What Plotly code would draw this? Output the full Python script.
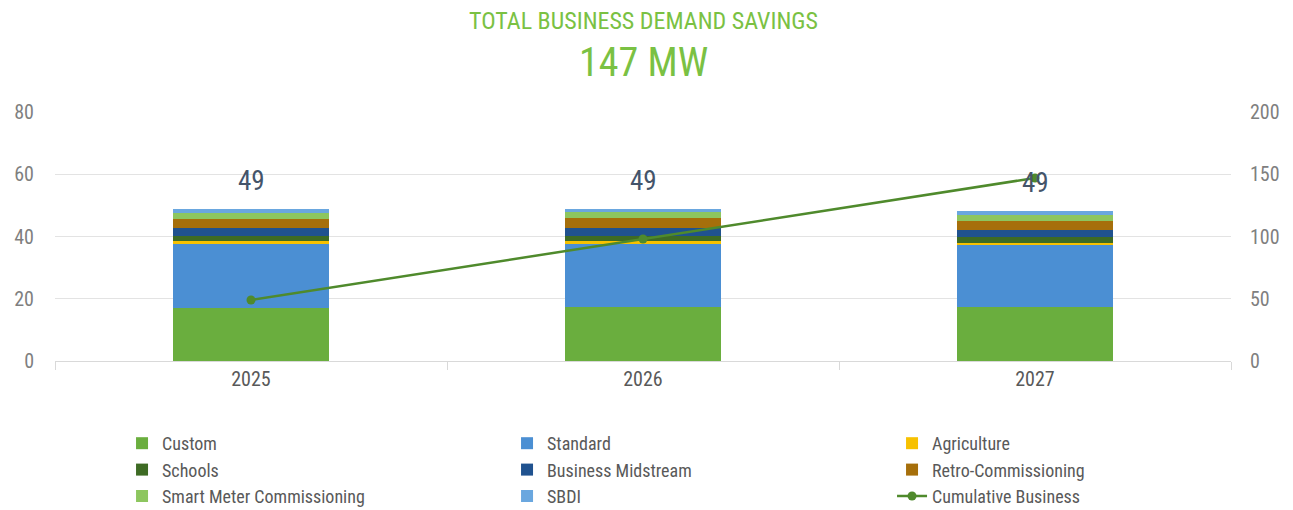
import plotly.graph_objects as go

years = ["2025", "2026", "2027"]
custom = [17.1, 17.3, 17.3]
standard = [20.6, 20.3, 20.0]
agriculture = [0.9, 0.9, 0.5]
schools = [1.6, 1.6, 1.9]
business_midstream = [2.6, 2.6, 2.4]
retro_commissioning = [2.7, 3.2, 3.0]
smart_meter = [2.1, 1.9, 1.9]
sbdi = [1.1, 1.0, 1.3]
cumulative = [49, 98, 147]
total_label = ["49", "49", "49"]

series = [
    ("Custom", custom, "#6aae3e"),
    ("Standard", standard, "#4b8fd3"),
    ("Agriculture", agriculture, "#f7c100"),
    ("Schools", schools, "#3e6b24"),
    ("Business Midstream", business_midstream, "#20528f"),
    ("Retro-Commissioning", retro_commissioning, "#a66f0b"),
    ("Smart Meter Commissioning", smart_meter, "#8dc65f"),
    ("SBDI", sbdi, "#6aa7df"),
]

FONT = "Roboto Condensed, Liberation Sans Narrow, Roboto, sans-serif"

fig = go.Figure()
for name, vals, col in series:
    fig.add_trace(go.Bar(x=years, y=vals, name=name, marker=dict(color=col, line=dict(width=0))))

fig.add_trace(go.Scatter(
    x=years, y=cumulative, name="Cumulative Business", yaxis="y2",
    mode="lines+markers", line=dict(color="#4f8a2c", width=2.5),
    marker=dict(color="#4f8a2c", size=9)))

totals = [sum(v[i] for _, v, _ in series) for i in range(len(years))]
for i, yr in enumerate(years):
    fig.add_annotation(x=i, y=totals[i], text=total_label[i], showarrow=False,
                       yanchor="middle", yshift=28,
                       font=dict(size=27, color="#44546a", family=FONT))

fig.add_annotation(xref="paper", yref="paper", x=0.5, y=1, yshift=91, yanchor="middle",
                   text="TOTAL BUSINESS DEMAND SAVINGS", showarrow=False,
                   font=dict(size=24, color="#7ac143", family=FONT))
fig.add_annotation(xref="paper", yref="paper", x=0.5, y=1, yshift=50, yanchor="middle",
                   text="147 MW", showarrow=False,
                   font=dict(size=40, color="#7ac143", family=FONT))

fig.update_layout(
    width=1293, height=510,
    margin=dict(l=55, r=62, t=112, b=149, autoexpand=False),
    paper_bgcolor="white", plot_bgcolor="white",
    barmode="stack", bargap=0.6,
    font=dict(family=FONT, size=17, color="#595959"),
    xaxis=dict(type="category", categoryorder="array", categoryarray=years,
               range=[-0.5, len(years) - 0.5], autorange=False,
               showgrid=False, ticks="outside", tickson="boundaries", ticklen=8,
               tickcolor="#d9d9d9", showline=True, linecolor="#d9d9d9",
               tickfont=dict(size=20, color="#595959")),
    yaxis=dict(range=[0, 80], dtick=20, gridcolor="#e3e3e3", zeroline=False,
               tickfont=dict(size=20, color="#7f7f7f"), ticklabelstandoff=20),
    yaxis2=dict(range=[0, 200], dtick=50, overlaying="y", side="right", showgrid=False,
                zeroline=False, tickfont=dict(size=20, color="#7f7f7f"), ticklabelstandoff=18),
    legend=dict(orientation="h", x=0.057, xanchor="left", y=-0.257, yanchor="top",
                entrywidth=340, traceorder="normal",
                font=dict(size=18, color="#595959", family=FONT)),
    showlegend=True,
)

fig.write_html("out.html", config={"displayModeBar": False},
               post_script="document.body.style.margin='0px';")
